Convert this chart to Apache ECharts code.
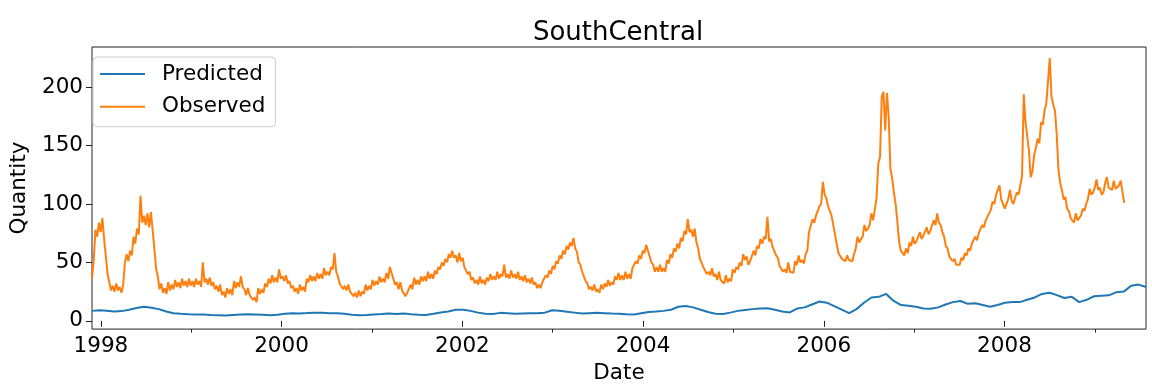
<!DOCTYPE html>
<html><head><meta charset="utf-8">
<script src="https://cdn.jsdelivr.net/npm/echarts@6/dist/echarts.min.js"></script>
<style>html,body{margin:0;padding:0;background:#fff}#c{width:1152px;height:389px}</style>
</head><body><div id="c"></div>
<script>
const titleText = 'SouthCentral';
const xMinDate = '1997-11-26';
const xMaxDate = '2009-07-26';
const majorTickYears = [1998, 2000, 2002, 2004, 2006, 2008];
const minorTickYears = [1999, 2001, 2003, 2005, 2007, 2009];
const yTicks = [0, 50, 100, 150, 200];
const yMin = -7.1, yMax = 234.4;

const observedStart = '1997-11-26';
const observedStepDays = 7;
const observedValues = [
 36,52, 78,72, 84,76, 88,70, 55,40,
 33,26, 30,25, 32,26, 29,24, 31,50,
 57,51, 60,56, 72,66, 79,74, 107,84,
 90,82, 92,80, 93,78, 62,45, 38,27,
 32,24, 28,23, 33,26, 31,27, 35,29,
 33,28, 36,30, 34,29, 36,30, 34,29,
 36,31, 34,29, 50,33, 36,31, 37,30,
 33,27, 30,25, 31,22, 25,20, 28,23,
 27,22, 34,28, 33,29, 38,29, 27,22,
 28,22, 23,18, 20,16, 28,23, 27,24,
 32,29, 36,32, 39,33, 37,33, 44,36,
 38,34, 39,32, 34,28, 30,25, 28,23,
 31,26, 29,25, 36,33, 39,34, 38,34,
 41,36, 40,36, 45,39, 42,39, 46,44,
 58,42, 38,32, 33,27, 30,26, 31,25,
 26,21, 24,20, 26,21, 25,23, 31,26,
 30,27, 35,30, 34,31, 38,33, 36,33,
 41,36, 46,41, 40,31, 33,27, 33,26,
 26,21, 24,23, 31,27, 37,31, 35,31,
 38,34, 38,34, 42,36, 40,36, 43,40,
 46,44, 50,47, 53,50, 57,54, 60,54,
 56,50, 58,51, 54,46, 47,40, 42,35,
 37,32, 35,31, 38,32, 35,31, 37,34,
 40,35, 38,35, 42,36, 40,38, 48,37,
 40,36, 43,37, 40,36, 42,35, 38,34,
 39,33, 36,32, 37,31, 33,28, 31,28,
 33,32, 39,37, 43,40, 47,44, 51,49,
 56,53, 60,57, 64,61, 67,64, 71,62,
 59,50, 48,42, 41,34, 32,27, 29,26,
 31,25, 27,24, 31,27, 32,29, 35,30,
 33,31, 38,35, 41,35, 39,35, 42,36,
 40,36, 45,44, 51,49, 56,53, 60,58,
 65,60, 61,50, 48,42, 46,42, 48,42,
 45,42, 52,49, 57,54, 62,59, 66,62,
 71,68, 77,74, 87,76, 78,72, 79,67,
 62,53, 54,46, 46,40, 42,39, 45,38,
 40,35, 42,35, 36,32, 39,33, 36,34,
 44,41, 46,44, 50,47, 57,52, 55,48,
 51,50, 60,56, 64,62, 70,66, 72,70,
 89,68, 70,63, 64,56, 54,47, 48,42,
 44,41, 50,42, 42,41, 51,48, 56,50,
 52,49, 57,60, 76,77, 87,84, 90,89,
 98,100, 119,108, 105,98, 97,90, 89,74,
 66,58, 58,53, 54,51, 56,52, 53,51,
 57,62, 72,67, 70,72, 82,77, 79,82,
 92,86, 87,105, 135,140, 192,196, 163,195,
 175,130, 122,110, 100,85, 68,60, 58,56,
 62,58, 67,64, 72,66, 68,69, 76,70,
 73,74, 80,74, 77,78, 86,82, 92,84,
 82,76, 72,64, 62,55, 56,51, 53,48,
 47,48, 54,52, 58,56, 62,60, 66,65,
 72,69, 75,74, 82,80, 86,85, 92,95,
 102,100, 108,107, 116,104, 104,96, 96,104,
 112,103, 100,101, 110,108, 116,124, 194,170,
 158,145, 123,128, 142,148, 156,152, 170,168,
 180,186, 205,225, 192,185, 180,160, 130,118,
 112,104, 106,96, 94,88, 88,84, 92,86,
 86,90, 96,94, 100,104, 113,108, 110,114,
 121,112, 114,108, 110,118, 123,114, 115,112,
 120,113, 114,116, 120,110, 101
];

const predictedStart = '1997-11-26';
const predictedStepDays = 30;
const predictedValues = [
 8.5,9,8.7,8,8.3,9.5,11,12,11.2,10,
 8,6.5,6,5.7,5.5,5.3,5,4.8,4.6,5,
 5.3,5.6,5.4,5.2,4.8,5.2,6,6.5,6.3,6.6,
 7,6.8,6.5,6.5,6,5.2,4.8,5,5.5,5.8,
 6.2,5.8,6.2,5.6,5.2,5,6,7.2,8,9.4,
 9.5,8.5,7,6,5.8,6.8,6.5,6,6.3,6.5,
 6.5,7,9,8.6,7.8,7,6.2,6.5,6.8,6.5,
 6.2,6,5.6,5.4,6.5,7.6,8,8.5,9.5,12,
 12.7,11.5,9.5,7.5,6,5.8,7,8.5,9.3,10,
 10.5,10.7,9.5,8,7.2,10.5,11.5,14,16.5,15.5,
 12.5,9.5,6.5,10,15.5,20,20.5,23,17,13.5,
 12.8,12,10.5,10.3,11.5,14,16,17,14.5,15,
 13.5,12,13.6,15.5,16,16,18,20,23,24,
 22,19.5,20.5,16,18,21,21.5,21.8,24.5,25,
 30,31,29
];

const DAY = 86400000;
function series(start, step, vals) {
  const t0 = new Date(start).getTime();
  return vals.map((v, i) => [t0 + i * step * DAY, v]);
}
const yearTime = y => Date.UTC(y, 0, 1);
const FONT = 'DejaVu Sans';
const txt = {fontFamily: FONT, fontSize: 21.5, color: '#000'};
const xMin = new Date(xMinDate).getTime(), xMax = new Date(xMaxDate).getTime();

const chart = echarts.init(document.getElementById('c'), null, {renderer: 'canvas'});
chart.setOption({
  animation: false,
  backgroundColor: '#fff',
  title: {
    text: titleText, left: 613, top: 15, textAlign: 'center',
    textStyle: {fontFamily: FONT, fontSize: 26, fontWeight: 'normal', color: '#000'}
  },
  grid: {left: 81, right: 6, top: 47, bottom: 57, show: true, borderColor: '#222', borderWidth: 1},
  legend: {
    data: ['Predicted', 'Observed'], orient: 'vertical', left: 93, top: 57,
    icon: 'rect', itemWidth: 45, itemHeight: 2, itemGap: 10.7,
    padding: [6, 10, 9, 7],
    borderColor: '#cccccc', borderWidth: 1, borderRadius: 4, backgroundColor: 'rgba(255,255,255,0.8)',
    textStyle: Object.assign({}, txt, {padding: [0, 0, 0, 12], lineHeight: 22})
  },
  xAxis: [{
    type: 'value', min: xMin, max: xMax,
    axisLine: {show: false},
    axisTick: {show: true, length: 6, lineStyle: {color: '#222'}, customValues: majorTickYears.map(yearTime)},
    axisLabel: Object.assign({}, txt, {customValues: majorTickYears.map(yearTime), margin: 6,
      formatter: v => String(new Date(v).getUTCFullYear())}),
    splitLine: {show: false},
    name: 'Date', nameLocation: 'middle', nameGap: 30, nameTextStyle: txt
  }, {
    type: 'value', position: 'bottom', min: xMin, max: xMax,
    axisLine: {show: false},
    axisTick: {show: true, length: 3.5, lineStyle: {color: '#222'}, customValues: minorTickYears.map(yearTime)},
    axisLabel: {show: false}, splitLine: {show: false}
  }],
  yAxis: {
    type: 'value', min: yMin, max: yMax,
    axisLine: {show: false},
    axisTick: {show: true, length: 6, lineStyle: {color: '#222'}, customValues: yTicks},
    axisLabel: Object.assign({}, txt, {customValues: yTicks, margin: 9}),
    splitLine: {show: false},
    name: 'Quantity', nameLocation: 'middle', nameGap: 62, nameRotate: 90, nameTextStyle: txt
  },
  series: [{
    name: 'Predicted', type: 'line', xAxisIndex: 0, showSymbol: false, symbol: 'none',
    data: series(predictedStart, predictedStepDays, predictedValues),
    lineStyle: {color: '#1f77b4', width: 2}, itemStyle: {color: '#1f77b4'}
  }, {
    name: 'Observed', type: 'line', xAxisIndex: 0, showSymbol: false, symbol: 'none',
    data: series(observedStart, observedStepDays, observedValues),
    lineStyle: {color: '#ff7f0e', width: 2}, itemStyle: {color: '#ff7f0e'}
  }]
});
</script></body></html>
